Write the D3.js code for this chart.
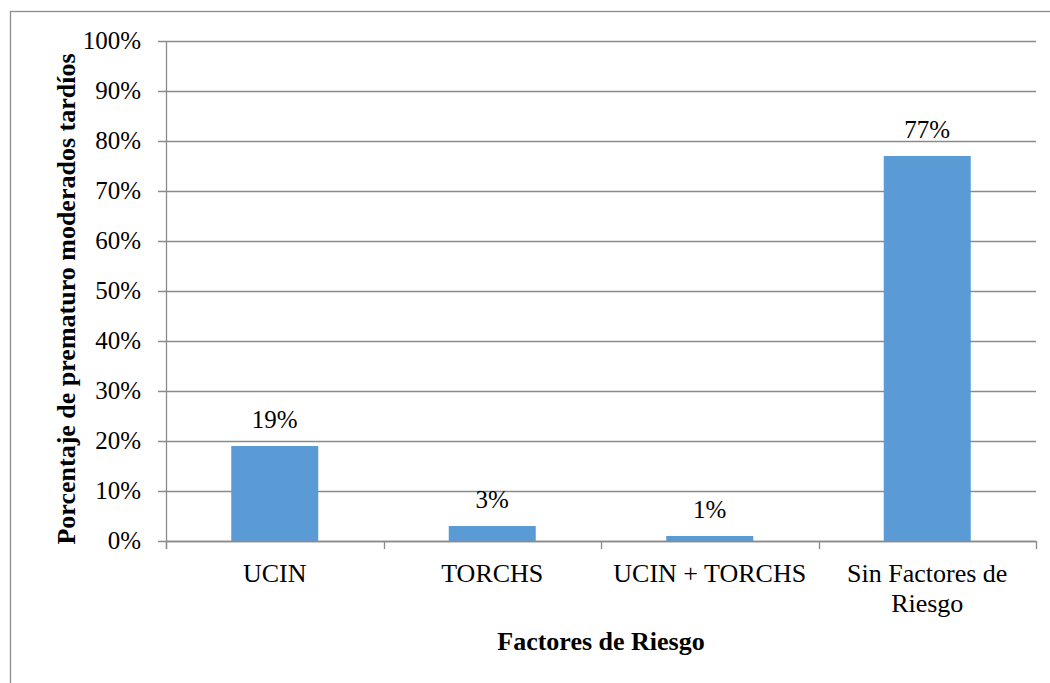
<!DOCTYPE html>
<html>
<head>
<meta charset="utf-8">
<script src="https://cdn.jsdelivr.net/npm/d3@7"></script>
</head>
<body style="margin:0;padding:0;background:#fff">
<svg id="chart" width="1050" height="683" style="display:block"></svg>
<script>
const categories = [["UCIN"], ["TORCHS"], ["UCIN + TORCHS"], ["Sin Factores de", "Riesgo"]];
const values = [19, 3, 1, 77];
const yTicks = [0, 10, 20, 30, 40, 50, 60, 70, 80, 90, 100];
const xTitle = "Factores de Riesgo";
const yTitle = "Porcentaje de prematuro moderados tardíos";

(function () {
const FONT = "Liberation Serif";
const svg = d3.select("#chart");
const W = 1050, H = 683;
const pL = 166, pR = 1036, pT = 41, pB = 541;

// outer frame
svg.append("rect").attr("x", 10.5).attr("y", 11.5).attr("width", W).attr("height", H)
  .attr("fill", "none").attr("stroke", "#8c8c8c").attr("stroke-width", 1.3);

const keys = categories.map(c => c.join(" "));
const x = d3.scaleBand().domain(keys).range([pL, pR]).paddingInner(0.6).paddingOuter(0.3);
const y = d3.scaleLinear().domain([0, 100]).range([pB, pT]);

// gridlines
svg.append("g").selectAll("line").data(yTicks).join("line")
  .attr("x1", pL - 8).attr("x2", pR)
  .attr("y1", d => Math.round(y(d)) + 0.5).attr("y2", d => Math.round(y(d)) + 0.5)
  .attr("stroke", "#8a8a8a").attr("stroke-width", 1.3);

// y axis line
svg.append("line").attr("x1", pL + 0.5).attr("x2", pL + 0.5)
  .attr("y1", pT).attr("y2", pB + 8)
  .attr("stroke", "#8a8a8a").attr("stroke-width", 1.3);

// y tick labels
svg.append("g").selectAll("text").data(yTicks).join("text")
  .attr("x", 141).attr("y", d => y(d) + 8)
  .attr("text-anchor", "end").attr("font-family", FONT).attr("font-size", 25).attr("fill", "#000")
  .text(d => d + "%");

// category boundary ticks
const bounds = d3.range(keys.length + 1).map(i => pL + i * (pR - pL) / keys.length);
svg.append("g").selectAll("line").data(bounds).join("line")
  .attr("x1", d => Math.round(d) + 0.5).attr("x2", d => Math.round(d) + 0.5)
  .attr("y1", pB).attr("y2", pB + 8)
  .attr("stroke", "#8a8a8a").attr("stroke-width", 1.3);

// bars
svg.append("g").selectAll("rect").data(values).join("rect")
  .attr("x", (d, i) => x(keys[i])).attr("width", x.bandwidth())
  .attr("y", d => y(d)).attr("height", d => y(0) - y(d))
  .attr("fill", "#5B9BD5");

// x axis line over bars
svg.append("line").attr("x1", pL).attr("x2", pR)
  .attr("y1", pB + 0.5).attr("y2", pB + 0.5)
  .attr("stroke", "#8a8a8a").attr("stroke-width", 1.3);

// data labels
svg.append("g").selectAll("text").data(values).join("text")
  .attr("x", (d, i) => x(keys[i]) + x.bandwidth() / 2)
  .attr("y", d => y(d) - 18)
  .attr("text-anchor", "middle").attr("font-family", FONT).attr("font-size", 25).attr("fill", "#000")
  .text(d => d + "%");

// category labels
const cl = svg.append("g").selectAll("text").data(categories).join("text")
  .attr("x", (d, i) => x(keys[i]) + x.bandwidth() / 2)
  .attr("y", 582)
  .attr("text-anchor", "middle").attr("font-family", FONT).attr("font-size", 26).attr("fill", "#000");
cl.selectAll("tspan").data(d => d).join("tspan")
  .attr("x", function() { return d3.select(this.parentNode).attr("x"); })
  .attr("dy", (d, i) => i === 0 ? 0 : 30)
  .text(d => d);

// axis titles
svg.append("text").attr("x", (pL + pR) / 2).attr("y", 650)
  .attr("text-anchor", "middle").attr("font-family", FONT).attr("font-size", 26).attr("font-weight", "bold")
  .text(xTitle);

svg.append("text").attr("transform", "translate(75," + 299 + ") rotate(-90)")
  .attr("text-anchor", "middle").attr("font-family", FONT).attr("font-size", 26).attr("font-weight", "bold")
  .text(yTitle);
})();
</script>
</body>
</html>
